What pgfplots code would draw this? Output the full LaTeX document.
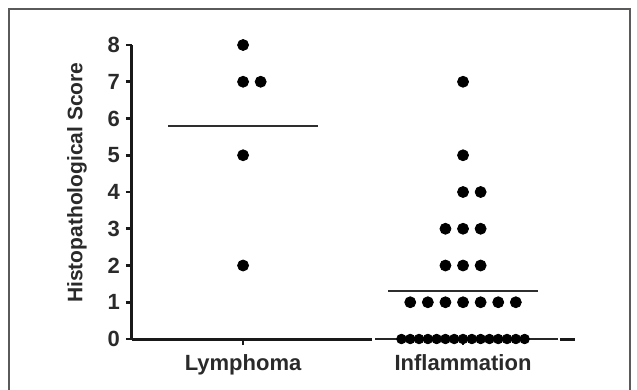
\documentclass[border=0pt]{standalone}
\usepackage{fontspec}
\setmainfont{Liberation Sans}
\usepackage{pgfplots}
\pgfplotsset{compat=1.18}
\definecolor{txt}{HTML}{2A2A2A}
\definecolor{frame}{HTML}{5A5A5A}
\definecolor{meanc}{HTML}{2E2E2E}
\begin{document}
\begin{tikzpicture}
\useasboundingbox (0,0) rectangle (318.5pt,-195pt);
\draw[frame, line width=1pt] (4.5pt,-196pt) -- (4.5pt,-4.5pt) -- (315pt,-4.5pt) -- (315pt,-196pt);
\begin{axis}[
  at={(66pt,-169.5pt)}, anchor=south west,
  scale only axis, width=221.5pt, height=147pt,
  xmin=-0.505, xmax=1.509, ymin=0, ymax=8,
  axis lines*=left,
  x axis line style={draw=none},
  y axis line style={line width=1.5pt, black!90},
  clip=false,
  xtick={0,1}, xticklabels={Lymphoma,Inflammation},
  ytick={0,1,...,8},
  tick align=outside, major tick length=3pt,
  tick style={line width=1.3pt, black!90},
  /pgf/number format/assume math mode=true,
  yticklabel style={font=\fontsize{11}{12}\selectfont\bfseries, text=txt, xshift=0.5pt},
  xticklabel style={font=\fontsize{11}{12}\selectfont\bfseries, text=txt, yshift=-1pt},
  ylabel={Histopathological Score},
  ylabel style={font=\fontsize{10.5}{12}\selectfont\bfseries, text=txt, at={(axis description cs:-0.124,0.532)}, anchor=center},
]
% x axis segments
\addplot[line width=1.5pt, black!90, no marks, forget plot] coordinates {(-0.505,0) (0.586,0)};
\addplot[line width=0.8pt, black!85, no marks, forget plot] coordinates {(0.600,0) (1.432,0)};
\addplot[line width=1.5pt, black!90, no marks, forget plot] coordinates {(1.441,0) (1.509,0)};
% Lymphoma
\addplot[only marks, mark=*, mark size=2.75pt, black] table {
x y
0 8
0 7
0.08 7
0 5
0 2
};
% Inflammation
\addplot[only marks, mark=*, mark size=2.75pt, black] table {
x y
1 7
1 5
1 4
1.08 4
0.92 3
1 3
1.08 3
0.92 2
1 2
1.08 2
0.76 1
0.84 1
0.92 1
1 1
1.08 1
1.16 1
1.24 1
};
\addplot[only marks, mark=*, mark size=2.4pt, black] table {
x y
0.72 0
0.76 0
0.80 0
0.84 0
0.88 0
0.92 0
0.96 0
1.00 0
1.04 0
1.08 0
1.12 0
1.16 0
1.20 0
1.24 0
1.28 0
};
% means
\addplot[line width=1.2pt, meanc, no marks] coordinates {(-0.34,5.8) (0.34,5.8)};
\addplot[line width=1.2pt, meanc, no marks] coordinates {(0.66,1.3125) (1.34,1.3125)};
\end{axis}
\end{tikzpicture}
\end{document}
